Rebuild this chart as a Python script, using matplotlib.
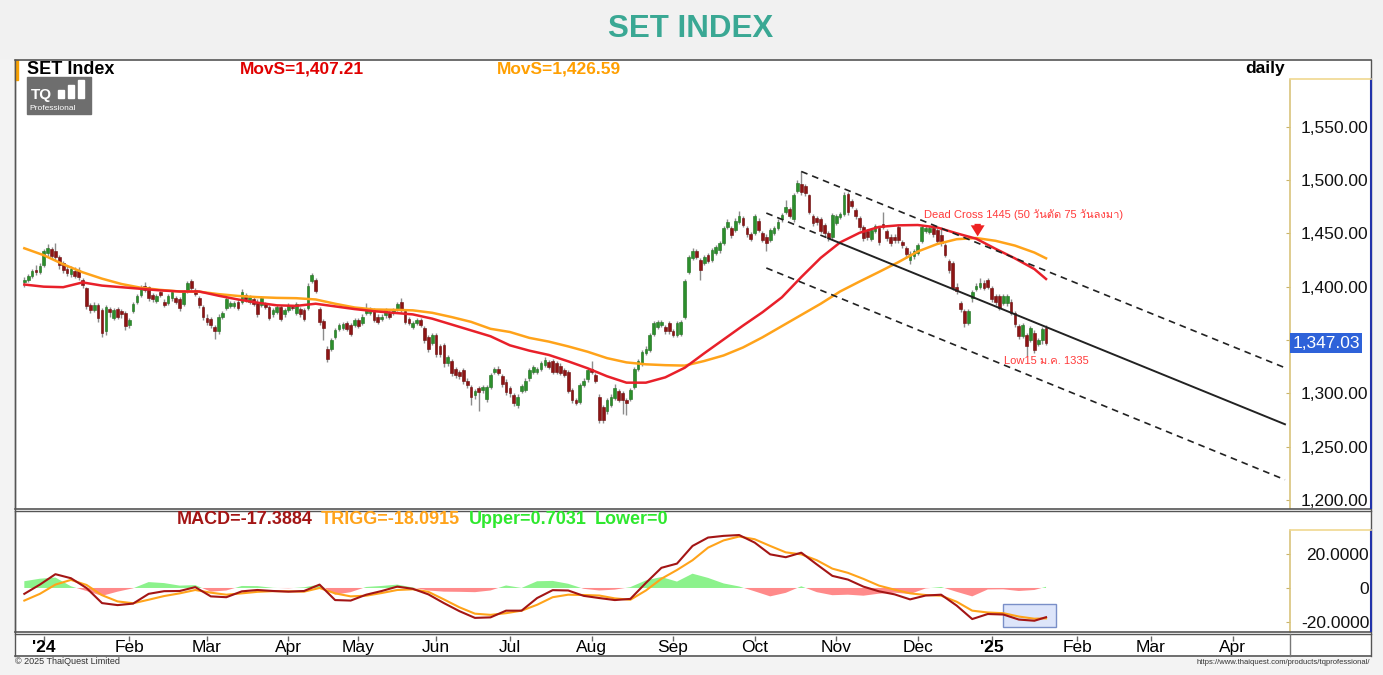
import numpy as np
import pandas as pd
import matplotlib
matplotlib.use("Agg")
import matplotlib.pyplot as plt
from matplotlib import font_manager
from matplotlib.ft2font import FT2Font
from matplotlib.patches import Rectangle

# SET market holidays around the plotted period
holidays = ["2023-12-29", "2024-01-01", "2024-02-26", "2024-04-08", "2024-04-12",
            "2024-04-15", "2024-04-16", "2024-05-01", "2024-05-06", "2024-05-22",
            "2024-06-03", "2024-07-22", "2024-07-29", "2024-08-12", "2024-10-14",
            "2024-10-23", "2024-12-05", "2024-12-10", "2024-12-31", "2025-01-01",
            "2025-02-12", "2025-04-07", "2025-04-14", "2025-04-15"]

# daily candles, 22 Dec 2023 .. 22 Jan 2025
opens = [1404, 1406, 1410, 1416, 1414, 1420, 1432, 1435, 1433, 1428,
         1422, 1417, 1412, 1415, 1416, 1406, 1399, 1383, 1378, 1383,
         1378, 1358, 1379, 1371, 1379, 1377, 1375, 1364, 1377, 1386,
         1392, 1401, 1400, 1392, 1387, 1395, 1386, 1385, 1389, 1389,
         1388, 1384, 1396, 1405, 1397, 1389, 1381, 1371, 1370, 1362,
         1358, 1372, 1380, 1382, 1382, 1386, 1386, 1392, 1386, 1388,
         1386, 1383, 1384, 1381, 1374, 1376, 1381, 1374, 1378, 1381,
         1375, 1379, 1378, 1380, 1405, 1406, 1379, 1368, 1342, 1342,
         1353, 1360, 1361, 1366, 1364, 1364, 1369, 1366, 1375, 1375,
         1378, 1372, 1370, 1373, 1375, 1375, 1379, 1386, 1377, 1370,
         1362, 1366, 1369, 1361, 1353, 1347, 1355, 1344, 1345, 1328,
         1330, 1323, 1320, 1322, 1312, 1306, 1298, 1305, 1303, 1295,
         1306, 1320, 1323, 1316, 1311, 1305, 1298, 1289, 1302, 1303,
         1314, 1320, 1320, 1323, 1327, 1329, 1330, 1328, 1326, 1322,
         1320, 1303, 1294, 1292, 1308, 1313, 1323, 1317, 1297, 1287,
         1283, 1289, 1296, 1302, 1300, 1294, 1295, 1306, 1323, 1328,
         1338, 1341, 1356, 1362, 1364, 1362, 1366, 1358, 1355, 1356,
         1372, 1414, 1427, 1433, 1425, 1422, 1430, 1425, 1432, 1434,
         1441, 1456, 1455, 1453, 1461, 1464, 1455, 1449, 1450, 1462,
         1450, 1447, 1444, 1450, 1455, 1463, 1470, 1473, 1463, 1490,
         1496, 1494, 1486, 1466, 1464, 1463, 1458, 1450, 1447, 1460,
         1465, 1468, 1487, 1480, 1472, 1464, 1456, 1452, 1445, 1452,
         1455, 1459, 1452, 1447, 1447, 1456, 1442, 1436, 1425, 1429,
         1432, 1443, 1452, 1451, 1455, 1453, 1448, 1439, 1424, 1422,
         1400, 1385, 1377, 1366, 1389, 1398, 1400, 1403, 1406, 1399,
         1391, 1391, 1385, 1385, 1386, 1375, 1363, 1354, 1355, 1350,
         1357, 1346, 1350, 1361]
highs = [1409, 1412, 1417, 1420, 1422, 1435, 1440, 1437, 1441, 1430,
         1424, 1419, 1419, 1418, 1418, 1408, 1400, 1385, 1386, 1385,
         1380, 1383, 1381, 1380, 1381, 1379, 1377, 1371, 1386, 1393,
         1402, 1404, 1401, 1394, 1393, 1396, 1388, 1393, 1397, 1391,
         1390, 1397, 1405, 1407, 1399, 1391, 1383, 1374, 1372, 1364,
         1374, 1377, 1390, 1387, 1387, 1388, 1398, 1394, 1392, 1390,
         1388, 1391, 1386, 1383, 1380, 1383, 1383, 1380, 1385, 1383,
         1386, 1381, 1380, 1403, 1413, 1408, 1381, 1370, 1344, 1352,
         1361, 1366, 1367, 1368, 1366, 1371, 1371, 1374, 1385, 1381,
         1380, 1374, 1374, 1380, 1377, 1380, 1386, 1389, 1379, 1372,
         1368, 1371, 1371, 1363, 1355, 1357, 1357, 1346, 1347, 1336,
         1332, 1325, 1322, 1324, 1314, 1308, 1304, 1307, 1308, 1308,
         1319, 1325, 1326, 1318, 1313, 1307, 1300, 1299, 1309, 1314,
         1324, 1327, 1325, 1330, 1334, 1331, 1332, 1330, 1328, 1324,
         1322, 1305, 1296, 1310, 1314, 1324, 1330, 1319, 1299, 1289,
         1296, 1299, 1309, 1304, 1302, 1296, 1305, 1325, 1332, 1341,
         1344, 1357, 1368, 1369, 1369, 1364, 1368, 1360, 1368, 1369,
         1407, 1430, 1436, 1435, 1427, 1430, 1432, 1436, 1439, 1443,
         1457, 1463, 1457, 1464, 1471, 1466, 1457, 1451, 1468, 1464,
         1452, 1449, 1455, 1457, 1463, 1469, 1481, 1475, 1488, 1500,
         1508, 1496, 1487, 1468, 1466, 1465, 1460, 1452, 1469, 1468,
         1470, 1489, 1489, 1482, 1474, 1466, 1458, 1454, 1455, 1459,
         1457, 1470, 1454, 1449, 1449, 1458, 1444, 1438, 1433, 1435,
         1441, 1458, 1457, 1457, 1457, 1455, 1456, 1441, 1426, 1424,
         1403, 1387, 1379, 1379, 1397, 1403, 1408, 1406, 1408, 1401,
         1393, 1393, 1393, 1393, 1388, 1377, 1365, 1366, 1357, 1363,
         1359, 1352, 1362, 1364]
lows = [1400, 1404, 1408, 1411, 1412, 1418, 1429, 1426, 1425, 1417,
        1413, 1410, 1409, 1408, 1406, 1399, 1379, 1375, 1376, 1367,
        1353, 1355, 1372, 1369, 1370, 1371, 1359, 1361, 1375, 1384,
        1390, 1395, 1387, 1386, 1385, 1390, 1381, 1383, 1387, 1384,
        1377, 1382, 1394, 1397, 1391, 1380, 1369, 1364, 1361, 1351,
        1356, 1370, 1378, 1380, 1380, 1378, 1384, 1386, 1384, 1382,
        1372, 1381, 1379, 1369, 1372, 1374, 1368, 1372, 1376, 1378,
        1373, 1372, 1368, 1378, 1403, 1394, 1364, 1350, 1329, 1340,
        1351, 1358, 1359, 1358, 1354, 1362, 1361, 1364, 1373, 1373,
        1367, 1365, 1368, 1371, 1370, 1373, 1377, 1376, 1365, 1364,
        1360, 1364, 1362, 1347, 1339, 1345, 1334, 1334, 1325, 1326,
        1316, 1314, 1313, 1309, 1305, 1289, 1295, 1283, 1300, 1292,
        1304, 1318, 1317, 1306, 1298, 1297, 1288, 1286, 1300, 1301,
        1312, 1318, 1318, 1321, 1325, 1323, 1318, 1318, 1317, 1315,
        1300, 1291, 1289, 1290, 1306, 1311, 1318, 1310, 1272, 1272,
        1281, 1287, 1294, 1292, 1281, 1280, 1293, 1304, 1321, 1326,
        1336, 1339, 1354, 1360, 1362, 1356, 1356, 1353, 1353, 1354,
        1370, 1412, 1425, 1426, 1406, 1420, 1422, 1423, 1430, 1432,
        1439, 1454, 1446, 1451, 1459, 1456, 1447, 1443, 1448, 1451,
        1442, 1433, 1442, 1448, 1453, 1461, 1468, 1464, 1461, 1488,
        1486, 1485, 1468, 1457, 1458, 1450, 1447, 1443, 1445, 1458,
        1463, 1466, 1467, 1474, 1463, 1453, 1443, 1444, 1443, 1450,
        1439, 1454, 1443, 1438, 1441, 1441, 1436, 1427, 1421, 1426,
        1430, 1441, 1450, 1449, 1447, 1441, 1438, 1428, 1413, 1397,
        1393, 1376, 1362, 1364, 1386, 1396, 1398, 1397, 1398, 1386,
        1383, 1378, 1383, 1382, 1373, 1362, 1351, 1352, 1335, 1348,
        1338, 1344, 1346, 1345]
closes = [1406, 1410, 1415, 1414, 1419, 1433, 1436, 1429, 1428, 1420,
          1416, 1413, 1417, 1410, 1409, 1402, 1382, 1378, 1383, 1371,
          1357, 1381, 1376, 1378, 1372, 1374, 1363, 1369, 1384, 1391,
          1398, 1397, 1389, 1388, 1391, 1392, 1383, 1391, 1395, 1386,
          1380, 1395, 1403, 1399, 1393, 1383, 1372, 1367, 1364, 1358,
          1372, 1375, 1388, 1385, 1385, 1380, 1395, 1388, 1390, 1384,
          1374, 1389, 1381, 1371, 1378, 1381, 1370, 1378, 1383, 1380,
          1384, 1374, 1370, 1401, 1411, 1396, 1367, 1361, 1332, 1350,
          1359, 1364, 1365, 1360, 1356, 1369, 1363, 1372, 1378, 1379,
          1369, 1367, 1372, 1378, 1372, 1378, 1384, 1378, 1367, 1366,
          1366, 1369, 1364, 1350, 1342, 1355, 1337, 1337, 1328, 1334,
          1319, 1317, 1316, 1312, 1308, 1297, 1302, 1301, 1306, 1306,
          1317, 1323, 1319, 1309, 1301, 1300, 1291, 1297, 1307, 1312,
          1322, 1325, 1323, 1328, 1331, 1325, 1320, 1320, 1319, 1317,
          1302, 1294, 1291, 1308, 1312, 1322, 1320, 1312, 1275, 1275,
          1294, 1297, 1305, 1294, 1294, 1291, 1303, 1323, 1330, 1339,
          1342, 1355, 1366, 1367, 1367, 1358, 1358, 1355, 1366, 1367,
          1405, 1428, 1433, 1428, 1416, 1428, 1424, 1434, 1437, 1441,
          1455, 1461, 1448, 1462, 1466, 1458, 1449, 1445, 1466, 1453,
          1444, 1441, 1453, 1455, 1461, 1467, 1475, 1466, 1486, 1497,
          1489, 1488, 1470, 1460, 1461, 1452, 1450, 1446, 1467, 1466,
          1468, 1486, 1470, 1476, 1466, 1456, 1446, 1447, 1453, 1457,
          1442, 1456, 1446, 1441, 1444, 1444, 1439, 1431, 1431, 1433,
          1439, 1456, 1455, 1455, 1449, 1443, 1441, 1430, 1416, 1399,
          1396, 1379, 1366, 1377, 1395, 1401, 1403, 1399, 1400, 1388,
          1386, 1380, 1391, 1391, 1375, 1365, 1354, 1364, 1344, 1361,
          1341, 1350, 1360, 1347.03]

# 50 / 75 day moving averages, read every 5 sessions (+ last session)
ma50 = [1402, 1400, 1399.5, 1404, 1401, 1399.5, 1398, 1396.5, 1395.5, 1395.5,
        1391.5, 1388, 1385, 1382.5, 1382, 1384, 1381.5, 1379, 1377, 1375.5,
        1374, 1370, 1364.5, 1359, 1353.5, 1345, 1340, 1336, 1330, 1323.5,
        1316, 1310, 1310, 1315, 1324, 1337.5, 1350.5, 1363.5, 1376, 1390,
        1409, 1427, 1441.5, 1450.5, 1456, 1457.5, 1457.8, 1455.5, 1450, 1445,
        1435.5, 1426.5, 1416.5, 1407.21]
ma75 = [1436, 1429.5, 1421, 1413.5, 1407.5, 1402.5, 1399, 1397, 1395.5, 1395.3,
        1393, 1391.3, 1390.2, 1389.5, 1389.2, 1388, 1384, 1380.5, 1378.6, 1378.3,
        1377.8, 1375.5, 1371.5, 1367, 1360.5, 1357.5, 1352, 1348.5, 1344, 1339,
        1333, 1329, 1327.2, 1326.4, 1326, 1330.3, 1335.5, 1343, 1352.5, 1363,
        1373.5, 1384, 1395.5, 1404.8, 1413.8, 1423, 1433, 1440, 1444.5, 1445.6,
        1443, 1438.5, 1432, 1426.59]

# MACD and trigger, read every 4 sessions (+ last session)
macd = [-3.5, 2.0, 8.2, 5.8, 0.0, -9.0, -10.2, -9.3, -3.5, -1.9,
        -1.8, 0.5, -5.0, -5.5, -2.0, -1.2, -1.8, -2.2, -1.8, 2.0,
        -7.2, -7.5, -4.0, -1.8, 0.8, -0.5, -3.8, -9.0, -13.8, -17.8,
        -17.5, -13.5, -13.5, -6.0, -1.3, -1.5, -4.7, -6.0, -7.2, -6.5,
        3.0, 12.0, 14.5, 25.0, 30.0, 31.0, 31.5, 27.0, 20.0, 18.3,
        21.0, 14.0, 7.2, 5.0, 0.8, -2.0, -3.8, -6.8, -4.5, -4.0,
        -10.5, -18.5, -15.5, -15.8, -18.8, -19.5, -17.3884]
trigg = [-7.5, -3.5, 2.0, 4.8, 1.8, -4.3, -8.0, -9.1, -7.0, -4.8,
         -3.2, -1.2, -2.8, -4.0, -3.2, -2.3, -1.9, -2.0, -2.2, 0.0,
         -3.2, -5.0, -4.6, -3.0, -1.2, -0.8, -2.3, -6.8, -11.5, -15.3,
         -16.0, -15.0, -13.5, -10.0, -5.5, -4.0, -4.2, -4.5, -6.2, -7.0,
         -1.5, 5.5, 10.7, 16.5, 24.0, 28.3, 30.6, 29.0, 25.0, 21.2,
         20.0, 16.5, 11.5, 9.0, 5.4, 1.4, -1.0, -3.2, -4.2, -4.6,
         -8.2, -13.5, -14.6, -15.0, -17.0, -18.3, -18.0915]

# trend channel: (session0, price0, session1, price1)
channel_upper = (200, 1508, 324.5, 1324)
channel_mid = (191, 1469, 324.5, 1271)
channel_lower = (191, 1417.5, 324.5, 1219)

month_labels = ["'24", "Feb", "Mar", "Apr", "May", "Jun", "Jul", "Aug", "Sep",
                "Oct", "Nov", "Dec", "'25", "Feb", "Mar", "Apr"]

# ---- fonts: need something with Thai glyphs for the notes
thai = None
for f in font_manager.fontManager.ttflist:
    try:
        if 0x0E27 in FT2Font(f.fname).get_charmap():
            thai = f.name
            break
    except Exception:
        pass
fams = ["Liberation Sans"] + ([thai] if thai else []) + ["DejaVu Sans"]
plt.rcParams["font.family"] = fams

W, H = 1383, 675
def box(x0, y0, x1, y1):
    return [x0 / W, 1 - y1 / H, (x1 - x0) / W, (y1 - y0) / H]

sessions = pd.bdate_range("2023-12-22", "2025-04-30")
sessions = sessions[~sessions.isin(pd.to_datetime(holidays))]
pos = pd.Series(np.arange(len(sessions)), index=sessions)
month_first = pos.groupby(sessions.to_period("M")).first()
month_first = month_first[month_first.index >= pd.Period("2024-01", "M")]

n = len(closes)
x = np.arange(n)
o, h, l, c = map(np.array, (opens, highs, lows, closes))
ma_x = np.r_[np.arange(0, n - 1, 5), n - 1]
md_x = np.r_[np.arange(0, n - 1, 4), n - 1]
macd_a, trigg_a = np.array(macd), np.array(trigg)
hist = macd_a - trigg_a

XLIM = (-2.4, 325.8)

fig = plt.figure(figsize=(W / 100, H / 100), dpi=100)
fig.patch.set_facecolor("#f3f3f3")

bg = fig.add_axes([0, 0, 1, 1], zorder=0)
bg.set_xlim(0, W); bg.set_ylim(H, 0); bg.axis("off")
bg.add_patch(Rectangle((15, 59), 1356, 597, color="white"))
bg.add_patch(Rectangle((0, 0), W, 58, color="#f1f1f1"))

# ---- price panel
ax = fig.add_axes(box(15, 60, 1290, 508), zorder=1)
ax.set_xlim(*XLIM)
ax.set_ylim(1192.5, 1612.5)
up = c >= o
ax.vlines(x, l, h, color="#8c8c8c", lw=1, zorder=2)
ax.bar(x[up], (c - o)[up], bottom=o[up], width=0.7, color="#2c8f2c",
       edgecolor="#1e6e1e", lw=0.4, zorder=3)
ax.bar(x[~up], (o - c)[~up], bottom=c[~up], width=0.7, color="#8e1414",
       edgecolor="#6a0b0b", lw=0.4, zorder=3)
ax.plot(ma_x, ma75, color="#ffa31a", lw=1.8, zorder=4)
ax.plot(ma_x, ma50, color="#e8202a", lw=1.8, zorder=4)

for (x0, y0, x1, y1) in (channel_upper, channel_lower):
    ax.plot([x0, x1], [y0, y1], color="#222222", lw=1.2, ls=(0, (4, 3)), zorder=5)
x0, y0, x1, y1 = channel_mid
slope = (y1 - y0) / (x1 - x0)
xs = x0 + 16
ax.plot([x0, xs], [y0, y0 + slope * 16], color="#222222", lw=1.2, ls=(0, (4, 3)), zorder=5)
ax.plot([xs, x1], [y0 + slope * 16, y1], color="#222222", lw=1.4, zorder=5)

ax.text(231.5, 1467.5, "Dead Cross 1445 (50 วันตัด 75 วันลงมา)", color="#ff3b3b",
        fontsize=8, ha="left", va="center", zorder=6)
ax.annotate("", xy=(245.4, 1444.5), xytext=(245.4, 1461.5),
            arrowprops=dict(arrowstyle="simple,head_width=1.0,head_length=0.8,tail_width=0.45",
                            color="#ee2222", lw=0), zorder=6)
ax.text(252.2, 1330.5, "Low15 ม.ค. 1335", color="#ff3b3b", fontsize=8,
        ha="left", va="center", zorder=6)

yt = np.arange(1200, 1551, 50)
ax.yaxis.tick_right()
ax.set_yticks(yt)
# 1,350.00 sits under the last-price box in the original
ax.set_yticklabels(["" if v == 1350 else f"{v:,.2f}" for v in yt], ha="right")
ax.tick_params(axis="y", direction="in", length=3, pad=56.5, labelsize=12.5,
               color="#c9b46a", labelcolor="#111111")
ax.set_xticks([])
for s in ("top", "bottom"):
    ax.spines[s].set_visible(False)
ax.spines["left"].set(color="#555555", lw=1)
ax.spines["right"].set(color="#d9c47c", lw=1.2, ls=(0, (1, 1)))
ax.spines["right"].set_bounds(1192.5, 1594.5)
ax.text(1.0018, c[-1], f"{c[-1]:,.2f}", transform=ax.get_yaxis_transform(),
        ha="left", va="center", fontsize=12.5, color="white", clip_on=False, zorder=7,
        bbox=dict(boxstyle="square,pad=0.15", fc="#2e62d9", ec="none"))

# ---- MACD panel
am = fig.add_axes(box(15, 511, 1290, 632), zorder=1)
am.set_xlim(*XLIM)
am.set_ylim(-26.2, 45.8)
am.fill_between(md_x, hist, 0, where=hist >= 0, interpolate=True, color="#8cf28c", lw=0, zorder=1)
am.fill_between(md_x, hist, 0, where=hist < 0, interpolate=True, color="#ff8a8a", lw=0, zorder=1)
am.add_patch(Rectangle((252, -23.2), 13.6, 13.7, fc="#dde5fa", ec="#7a8fc8", lw=1, zorder=2))
am.plot(md_x, trigg, color="#ffa31a", lw=1.5, zorder=3)
am.plot(md_x, macd, color="#a31515", lw=1.5, zorder=4)
am.yaxis.tick_right()
am.set_yticks([-20, 0, 20])
am.set_yticklabels(["-20.0000", "0", "20.0000"], ha="right")
am.tick_params(axis="y", direction="in", length=3, pad=57, labelsize=12.5,
               color="#c9b46a", labelcolor="#111111")
am.set_xticks([])
for s in ("top", "bottom"):
    am.spines[s].set_visible(False)
am.spines["left"].set(color="#555555", lw=1)
am.spines["right"].set(color="#d9c47c", lw=1.2, ls=(0, (1, 1)))
am.spines["right"].set_bounds(-26.2, 34.5)

# ---- date strip
ad = fig.add_axes(box(15, 635, 1290, 656), zorder=1)
ad.set_xlim(*XLIM); ad.set_ylim(0, 1); ad.axis("off")
ad.vlines(month_first.values, 0.72, 0.95, color="#666666", lw=1)
for xi, lab in zip(month_first.values, month_labels):
    ad.text(xi, 0.4, lab, ha="center", va="center", fontsize=12.5,
            fontweight="bold" if lab.startswith("'") else "normal")

# ---- frame, header and footer texts
ov = fig.add_axes([0, 0, 1, 1], zorder=5)
ov.set_xlim(0, W); ov.set_ylim(H, 0); ov.axis("off")
ov.patch.set_alpha(0)
for yy, lw in [(59.5, 1.2), (508.5, 1.2), (510.5, 1.0), (631.5, 1.2), (633.5, 1.0), (656, 1.2)]:
    ov.plot([15, 1371], [yy, yy], color="#555555", lw=lw)
ov.plot([15, 15], [59.5, 656], color="#555555", lw=1)
ov.plot([1371, 1371], [59.5, 656], color="#555555", lw=1)
ov.plot([1371, 1371], [79, 508], color="#2233aa", lw=1.5)
ov.plot([1371, 1371], [530, 631], color="#2233aa", lw=1.5)
ov.plot([1290, 1371], [79, 79], color="#f0d890", lw=1.2)
ov.plot([1290, 1371], [530, 530], color="#f0d890", lw=1.2)
ov.plot([1290, 1290], [634, 656], color="#777777", lw=1)
ov.add_patch(Rectangle((15, 60), 3, 20, color="#f7a000"))

ov.text(691, 29, "SET INDEX", ha="center", va="center", fontsize=22.5,
        fontweight="bold", color="#3aa894")
ov.text(27, 69, "SET Index", ha="left", va="center", fontsize=13, fontweight="bold")
ov.text(240, 69, f"MovS={ma50[-1]:,.2f}", ha="left", va="center", fontsize=12.5,
        fontweight="bold", color="#e00000")
ov.text(497, 69, f"MovS={ma75[-1]:,.2f}", ha="left", va="center", fontsize=12.5,
        fontweight="bold", color="#ff9f00")
ov.text(1285, 69, "daily", ha="right", va="center", fontsize=12.5, fontweight="bold")

# TQ logo
ov.add_patch(Rectangle((27, 77), 64, 37, color="#6e6e6e"))
ov.text(31, 95, "TQ", ha="left", va="center", fontsize=11, fontweight="bold", color="white")
for bx, bt in [(58, 90), (68, 85), (78, 80)]:
    ov.add_patch(Rectangle((bx, bt), 6, 98 - bt, color="white"))
ov.text(29, 108, "Professional", ha="left", va="center", fontsize=6, color="white")

# MACD legend line, pieces chained one after another
parts = [(f"MACD={macd[-1]:.4f}", "#a31515"),
         (f"TRIGG={trigg[-1]:.4f}", "#ffa31a"),
         (f"Upper={hist[-1]:.4f}", "#2ee82e"),
         ("Lower=0", "#2ee82e")]
prev = ov.text(177, 520, parts[0][0], ha="left", va="center", fontsize=13,
               fontweight="bold", color=parts[0][1])
for s, col in parts[1:]:
    prev = ov.annotate(s, xy=(1, 0.5), xycoords=prev, xytext=(6, 0),
                       textcoords="offset points", ha="left", va="center",
                       fontsize=13, fontweight="bold", color=col)

ov.text(15, 662, "© 2025 ThaiQuest Limited", ha="left", va="center", fontsize=6.5, color="#333333")
ov.text(1370, 662, "https://www.thaiquest.com/products/tqprofessional/", ha="right",
        va="center", fontsize=5.5, color="#333333")

fig.savefig("out.png", dpi=100)
